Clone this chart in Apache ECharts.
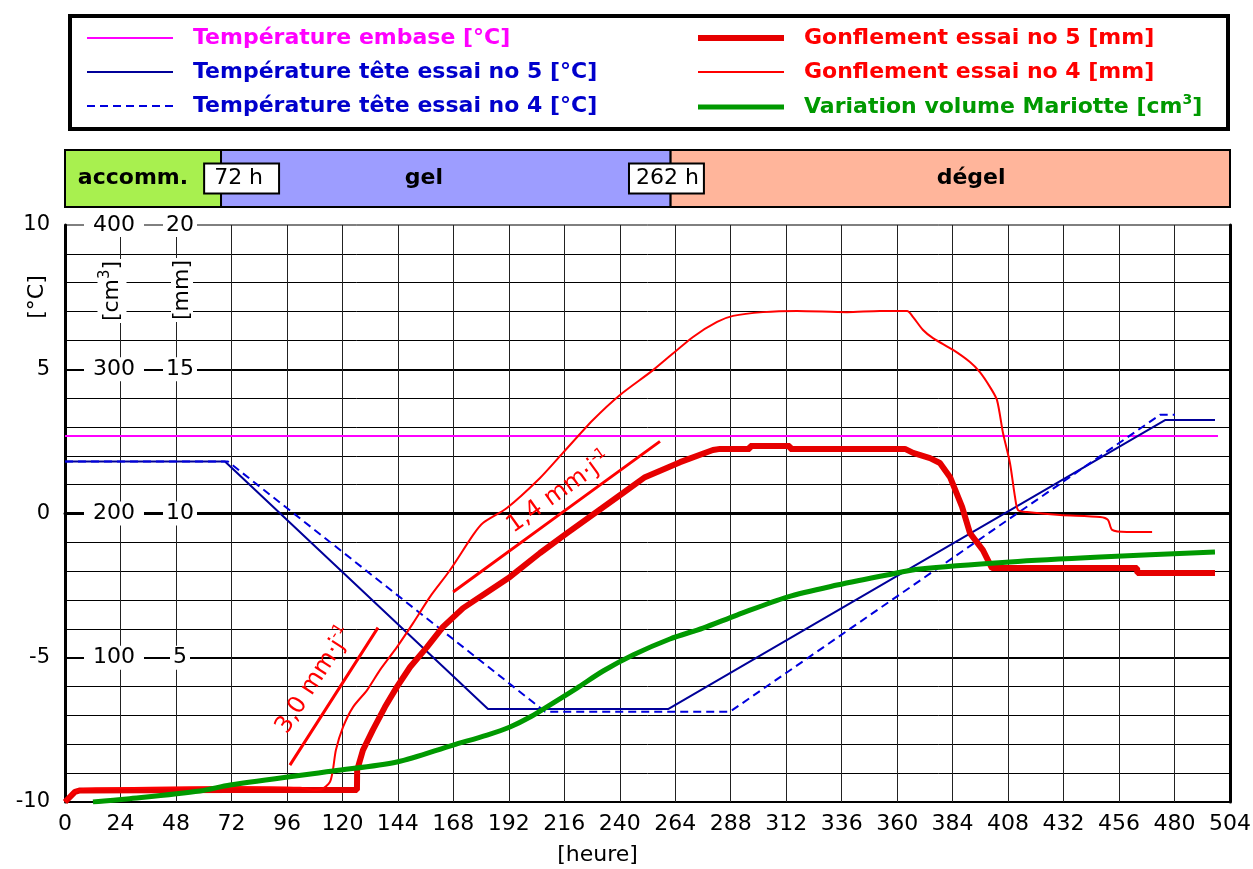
<!DOCTYPE html>
<html>
<head>
<meta charset="utf-8">
<script src="https://cdn.jsdelivr.net/npm/echarts@6/dist/echarts.min.js"></script>
<style>
  html, body { margin: 0; padding: 0; background: #fff; }
  #chart { width: 1253px; height: 869px; }
</style>
</head>
<body>
<div id="chart"></div>
<script>
// Time axis in hours
const hourMax = 504;
const hourStep = 24;

// Test phases: boundaries (h), names, name anchors (h), boxed hour marks
const phaseBounds = [0, 67.5, 262, 504];
const phaseNames = ['accomm.', 'gel', 'dégel'];
const phaseNameHours = [29.4, 155.3, 392];
const phaseMarkTexts = ['72 h', '262 h'];
const phaseMarkHours = [76.4, 260.2];

// Temperatures [h, °C]
const tempEmbase = [[0, 2.69], [498.8, 2.69]];
const tempTete5 = [[0, 1.8], [69.2, 1.8], [183.0, -6.78], [260.9, -6.78], [475.9, 3.24], [497.5, 3.24]];
const tempTete4 = [[0, 1.8], [70.5, 1.8], [207.7, -6.87], [287.7, -6.87], [473.7, 3.42], [480.2, 3.42]];

// Heave [h, mm]
const gonflement5 = [[0, 0], [4.3, 0.35], [6.5, 0.40], [71.4, 0.42], [126.3, 0.42], [126.4, 1.11], [128.9, 1.80],
  [133.2, 2.50], [138.4, 3.29], [143.6, 3.99], [149.3, 4.68], [156.6, 5.37], [163.5, 6.07], [172.2, 6.72],
  [179.5, 7.11], [192.5, 7.80], [205.5, 8.63], [217.2, 9.32], [241.4, 10.71], [250.9, 11.26], [266.1, 11.78],
  [280.3, 12.20], [283.4, 12.24], [296.3, 12.24], [296.4, 12.34], [313.6, 12.34], [313.7, 12.24], [363.4, 12.24],
  [366.9, 12.10], [374.2, 11.92], [378.5, 11.75], [382.9, 11.26], [388.1, 10.23], [391.5, 9.32], [397.1, 8.73],
  [401.0, 8.11], [463.8, 8.11], [463.9, 7.94], [497.5, 7.94]];
const gonflement4 = [[0, 0], [3.5, 0.31], [7.8, 0.45], [36.8, 0.49], [71.4, 0.52], [101.7, 0.49], [107.3, 0.42],
  [111.2, 0.45], [114.6, 0.69], [115.9, 1.11], [117.2, 1.80], [120.3, 2.60], [124.6, 3.29], [130.7, 3.88],
  [136.3, 4.58], [143.6, 5.37], [150.6, 6.20], [157.9, 7.11], [166.6, 8.04], [176.5, 9.25], [180.8, 9.67],
  [191.2, 10.19], [205.5, 11.23], [215.4, 12.10], [228.4, 13.24], [240.1, 14.11], [254.4, 14.97], [271.7, 16.12],
  [282.1, 16.64], [289.0, 16.85], [302.0, 16.98], [316.7, 17.02], [338.3, 16.98], [352.6, 17.02], [364.3, 17.02],
  [366.9, 16.81], [371.2, 16.36], [375.5, 16.08], [384.2, 15.67], [391.5, 15.25], [395.8, 14.90], [400.2, 14.38],
  [403.2, 13.93], [405.8, 12.79], [408.8, 11.75], [411.0, 10.57], [412.3, 10.12], [416.2, 10.05], [430.5, 9.95],
  [447.8, 9.88], [451.2, 9.78], [453.0, 9.43], [459.4, 9.36], [470.3, 9.36]];

// Mariotte volume change [h, cm3]
const mariotte = [[12.1, 0], [26.8, 2.1], [58.4, 7.6], [71.4, 11.8], [115.9, 21.5], [143.6, 27.7], [167.9, 39.5],
  [182.6, 46.4], [192.5, 52.0], [201.2, 58.9], [211.1, 68.6], [221.5, 79.0], [232.8, 90.8], [245.7, 101.9],
  [261.7, 113.0], [276.0, 120.6], [290.7, 129.6], [312.4, 142.1], [334.0, 150.4], [355.6, 157.4], [369.9, 161.5],
  [408.8, 166.4], [447.8, 169.8], [497.5, 173.3]];

// Heave-rate guide lines: rate (mm/day), start point [h, mm], length (h)
const rateValues = [1.4, 3.0];
const rateStarts = [[167.9, 7.28], [97.3, 1.28]];
const rateSpans = [89.5, 38.1];

const F = 'DejaVu Sans';
const NAMES = [
  'Température embase [°C]',
  'Température tête essai no 5 [°C]',
  'Température tête essai no 4 [°C]',
  'Gonflement essai no 5 [mm]',
  'Gonflement essai no 4 [mm]',
  'Variation volume Mariotte [cm3]'
];
const PHASE_COLORS = ['#a8f04f', '#9d9dff', '#ffb59b'];

// Label styling for the two guide lines (offset is in the rotated label frame)
const rateLabelLook = [
  { rotate: 35.7, offset: [16, -18] },
  { rotate: 57, offset: [3, -25] }
];

const rateSeries = rateValues.map((rate, i) => {
  const s = rateStarts[i];
  const e = [s[0] + rateSpans[i], s[1] + rate * rateSpans[i] / 24];
  const m = [(s[0] + e[0]) / 2, (s[1] + e[1]) / 2];
  const txt = rate.toFixed(1).replace('.', ',');
  return {
    type: 'line', xAxisIndex: 0, yAxisIndex: 2, silent: true,
    showSymbol: true, symbol: 'circle', symbolSize: 0,
    lineStyle: { color: '#ff0000', width: 3 }, itemStyle: { color: '#ff0000' },
    data: [
      { value: s },
      {
        value: m,
        label: {
          show: true, position: 'inside', rotate: rateLabelLook[i].rotate, offset: rateLabelLook[i].offset,
          formatter: '{a|' + txt + ' mm·j}{s|-1}',
          rich: {
            a: { fontFamily: F, fontSize: 24, color: '#ff0000' },
            s: { fontFamily: F, fontSize: 15, color: '#ff0000', padding: [0, 0, 15, 0] }
          }
        }
      },
      { value: e }
    ]
  };
});

const legendCommon = {
  orient: 'vertical', top: 25, padding: 0, itemWidth: 86, itemHeight: 14, itemGap: 8, selectedMode: false,
  itemStyle: { opacity: 0, borderWidth: 0 },
  textStyle: {
    fontFamily: F, fontWeight: 'bold', fontSize: 22, lineHeight: 26, padding: [0, 0, 0, 15],
    rich: { s: { fontFamily: F, fontWeight: 'bold', fontSize: 14, color: '#009900', padding: [0, 0, 14, 0] },
            n: { fontFamily: F, fontWeight: 'bold', fontSize: 22, color: '#009900' } }
  },
  formatter: name => name.endsWith('[cm3]') ? '{n|' + name.slice(0, -2) + '}{s|3}{n|]}' : name
};

const chart = echarts.init(document.getElementById('chart'), null, { renderer: 'canvas' });

const option = {
  animation: false,
  backgroundColor: '#fff',
  grid: [
    { left: 65, right: 23, top: 225, height: 577, show: true, borderColor: '#000', borderWidth: 1,
      containLabel: false, outerBoundsMode: 'none' },
    { left: 65, right: 23, top: 150, height: 57, containLabel: false, outerBoundsMode: 'none' }
  ],
  legend: [
    Object.assign({}, legendCommon, {
      left: 86,
      data: [
        { name: NAMES[0], textStyle: { color: '#ff00ff' }, lineStyle: { width: 2 } },
        { name: NAMES[1], textStyle: { color: '#0000cc' }, lineStyle: { width: 2 } },
        { name: NAMES[2], textStyle: { color: '#0000cc' }, lineStyle: { width: 2 } }
      ]
    }),
    Object.assign({}, legendCommon, {
      left: 695,
      data: [
        { name: NAMES[3], textStyle: { color: '#ff0000' }, lineStyle: { width: 6 } },
        { name: NAMES[4], textStyle: { color: '#ff0000' }, lineStyle: { width: 2 } },
        { name: NAMES[5], textStyle: { color: '#009900' }, lineStyle: { width: 5 } }
      ]
    })
  ],
  xAxis: [
    {
      gridIndex: 0, type: 'value', min: 0, max: hourMax, interval: hourStep,
      axisLine: { lineStyle: { color: '#000', width: 3 } },
      axisTick: { show: false },
      axisLabel: { color: '#000', fontFamily: F, fontSize: 22, margin: 11 },
      splitLine: { show: true, lineStyle: { color: '#222', width: 1 } },
      name: '[heure]', nameLocation: 'middle', nameGap: 42,
      nameTextStyle: { color: '#000', fontFamily: F, fontSize: 22, padding: [0, 100, 0, 0] }
    },
    { gridIndex: 1, type: 'value', min: 0, max: hourMax, show: false }
  ],
  yAxis: [
    {
      gridIndex: 0, type: 'value', min: -10, max: 10, interval: 5,
      axisLine: { show: true, lineStyle: { color: '#000', width: 3 } },
      axisTick: { show: false },
      axisLabel: { color: '#000', fontFamily: F, fontSize: 21, margin: 15 },
      splitLine: { show: true, showMaxLine: false, lineStyle: { color: '#000', width: 2 } },
      minorTick: { show: false, splitNumber: 5 },
      minorSplitLine: { show: true, lineStyle: { color: '#000', width: 1 } }
    },
    {
      gridIndex: 0, type: 'value', min: 0, max: 400, interval: 100, position: 'left', offset: -49, z: 1,
      axisLine: { show: false }, axisTick: { show: false }, splitLine: { show: false },
      axisLabel: { color: '#000', fontFamily: F, fontSize: 22, margin: 0, align: 'center',
        backgroundColor: '#fff', padding: [1, 9], showMinLabel: false }
    },
    {
      gridIndex: 0, type: 'value', min: 0, max: 20, interval: 5, position: 'left', offset: -115, z: 1,
      axisLine: { show: false }, axisTick: { show: false }, splitLine: { show: false },
      axisLabel: { color: '#000', fontFamily: F, fontSize: 22, margin: 0, align: 'center',
        backgroundColor: '#fff', padding: [1, 3], showMinLabel: false }
    },
    {
      gridIndex: 0, type: 'value', min: -10, max: 10, position: 'right',
      axisLine: { show: true, lineStyle: { color: '#000', width: 3 } },
      axisTick: { show: false }, axisLabel: { show: false }, splitLine: { show: false }
    },
    { gridIndex: 1, type: 'value', min: 0, max: 1, show: false }
  ],
  graphic: [
    { type: 'rect', z: 10, shape: { x: 70, y: 16, width: 1158, height: 113 },
      style: { fill: 'none', stroke: '#000', lineWidth: 4 } },
    { type: 'text', z: 10, x: 37, y: 297, rotation: Math.PI / 2,
      style: { text: '[°C]', fill: '#000', fontFamily: F, fontSize: 22, align: 'center', verticalAlign: 'middle',
        backgroundColor: '#fff', padding: [0, 2] } },
    { type: 'text', z: 10, x: 112, y: 291, rotation: Math.PI / 2,
      style: { text: '{n|[cm}{s|3}{n|]}', fill: '#000', align: 'center', verticalAlign: 'middle',
        backgroundColor: '#fff', padding: [0, 2],
        rich: { n: { fontFamily: F, fontSize: 22, fill: '#000' },
                s: { fontFamily: F, fontSize: 15, fill: '#000', padding: [0, 0, 14, 0] } } } },
    { type: 'text', z: 10, x: 182, y: 290, rotation: Math.PI / 2,
      style: { text: '[mm]', fill: '#000', fontFamily: F, fontSize: 22, align: 'center', verticalAlign: 'middle',
        backgroundColor: '#fff', padding: [0, 2] } }
  ],
  series: [
    { name: NAMES[0], type: 'line', xAxisIndex: 0, yAxisIndex: 0, data: tempEmbase, symbol: 'none', silent: true,
      color: '#ff00ff', lineStyle: { color: '#ff00ff', width: 2 } },
    { name: NAMES[1], type: 'line', xAxisIndex: 0, yAxisIndex: 0, data: tempTete5, symbol: 'none', silent: true,
      color: '#000099', lineStyle: { color: '#000099', width: 2 } },
    { name: NAMES[2], type: 'line', xAxisIndex: 0, yAxisIndex: 0, data: tempTete4, symbol: 'none', silent: true,
      color: '#0000dd', lineStyle: { color: '#0000dd', width: 2, type: [8, 5] } },
    { name: NAMES[3], type: 'line', xAxisIndex: 0, yAxisIndex: 2, data: gonflement5, symbol: 'none', silent: true,
      color: '#e60000', lineStyle: { color: '#e60000', width: 6 } },
    { name: NAMES[4], type: 'line', xAxisIndex: 0, yAxisIndex: 2, data: gonflement4, symbol: 'none', silent: true,
      smooth: 0.25, color: '#ff0000', lineStyle: { color: '#ff0000', width: 2 } },
    { name: NAMES[5], type: 'line', xAxisIndex: 0, yAxisIndex: 1, data: mariotte, symbol: 'none', silent: true,
      smooth: 0.3, color: '#009900', lineStyle: { color: '#009900', width: 5 } },
    ...rateSeries,
    {
      // Phase bands above the plot
      type: 'custom', xAxisIndex: 1, yAxisIndex: 4, silent: true, z: 1,
      data: phaseNames.map((n, i) => [phaseBounds[i], phaseBounds[i + 1], i]),
      renderItem: (params, api) => {
        const a = api.coord([api.value(0), 1]);
        const b = api.coord([api.value(1), 0]);
        return {
          type: 'rect',
          shape: { x: a[0], y: a[1], width: b[0] - a[0], height: b[1] - a[1] },
          style: { fill: PHASE_COLORS[api.value(2)], stroke: '#000', lineWidth: 2 }
        };
      }
    },
    {
      type: 'scatter', xAxisIndex: 1, yAxisIndex: 4, silent: true, symbolSize: 0, z: 4,
      itemStyle: { opacity: 1 },
      data: phaseNameHours.map((h, i) => ({ value: [h, 0.5], name: phaseNames[i] })),
      label: { show: true, position: 'inside', formatter: p => p.name, opacity: 1,
        fontFamily: F, fontWeight: 'bold', fontSize: 22, color: '#000' }
    },
    {
      type: 'scatter', xAxisIndex: 1, yAxisIndex: 4, silent: true, symbolSize: 0, z: 5,
      itemStyle: { opacity: 1 },
      data: phaseMarkHours.map((h, i) => ({
        value: [h, 0.5], name: phaseMarkTexts[i],
        label: { padding: i === 0 ? [3, 15, 3, 9] : [3, 4, 3, 6] }
      })),
      label: { show: true, position: 'inside', formatter: p => p.name, opacity: 1,
        fontFamily: F, fontSize: 22, color: '#000', backgroundColor: '#fff',
        borderColor: '#000', borderWidth: 2 }
    }
  ]
};

chart.setOption(option);
</script>
</body>
</html>
